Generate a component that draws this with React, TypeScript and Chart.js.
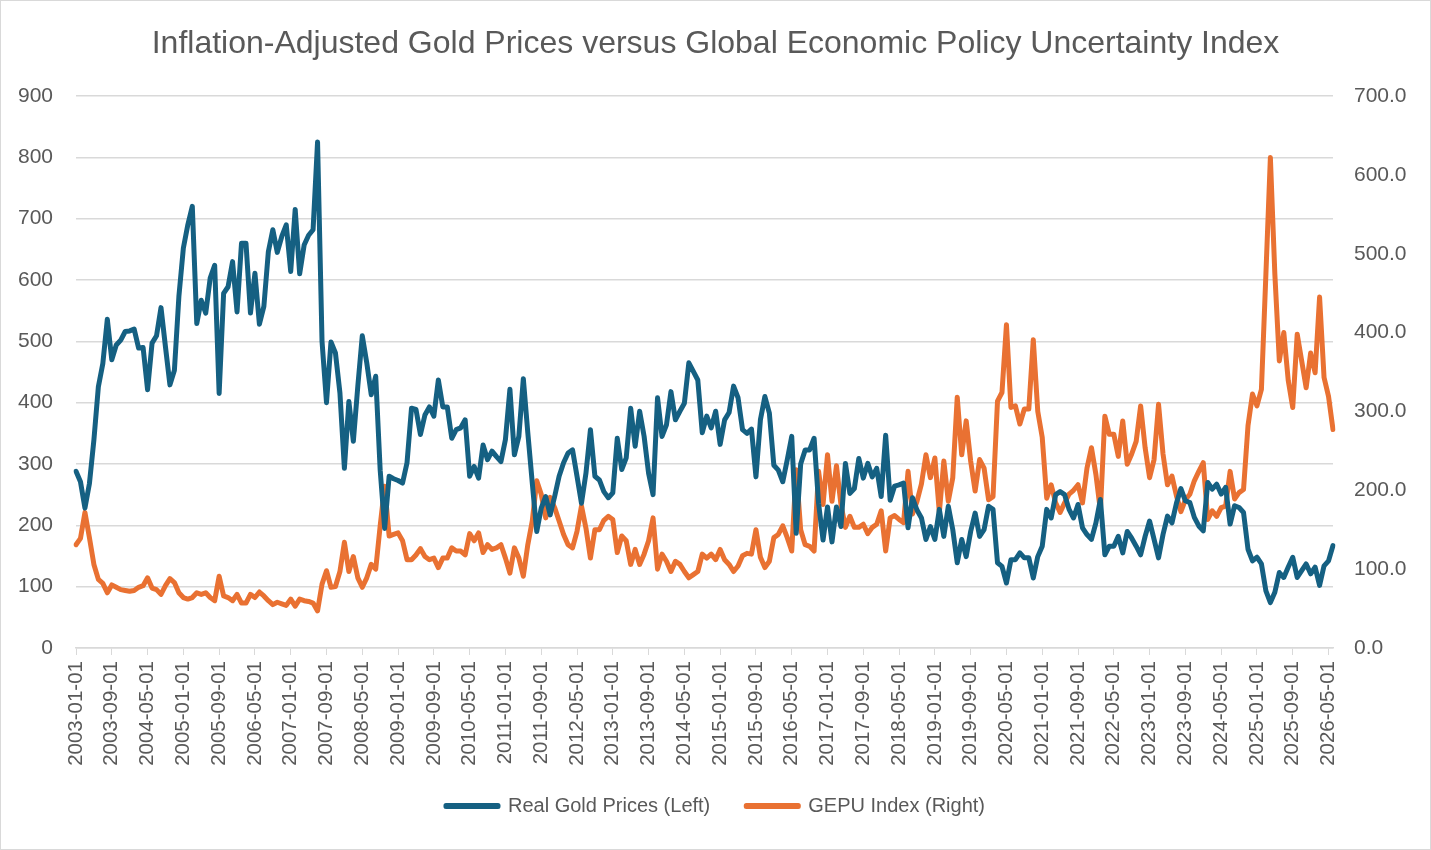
import React, { useEffect, useRef } from "react";
import { Chart, registerables } from "chart.js";

Chart.register(...registerables);

// Monthly categories: 2003-01-01 .. 2026-06-01
const START_YEAR = 2003;
const MONTH_COUNT = 282;
const categories: string[] = [];
for (let k = 0; k < MONTH_COUNT; k++) {
  const y = START_YEAR + Math.floor(k / 12);
  const m = (k % 12) + 1;
  categories.push(`${y}-${m < 10 ? "0" + m : m}-01`);
}
const LABEL_EVERY = 8;

const realGoldPrices: number[] = [
  288, 271, 228, 268, 339, 426, 464, 536, 470, 494, 502, 516,
  517, 520, 489, 490, 421, 497, 509, 555, 491, 429, 453, 573,
  652, 690, 720, 529, 567, 546, 603, 624, 415, 578, 589, 630,
  548, 660, 660, 546, 611, 528, 557, 646, 682, 645, 671, 690,
  614, 715, 610, 657, 673, 682, 825, 500, 400, 499, 481, 416,
  293, 402, 337, 427, 509, 465, 413, 443, 290, 195, 280, 276,
  273, 269, 302, 391, 389, 348, 380, 393, 378, 437, 393, 393,
  342, 356, 359, 372, 280, 296, 277, 331, 307, 321, 312, 304,
  340, 422, 315, 345, 439, 351, 269, 190, 228, 247, 217, 247,
  280, 302, 318, 323, 280, 236, 285, 356, 280, 274, 255, 245,
  253, 342, 291, 310, 391, 329, 386, 345, 285, 250, 408, 345,
  364, 418, 372, 386, 399, 465, 451, 437, 351, 378, 359, 386,
  332, 372, 384, 427, 408, 356, 350, 357, 279, 372, 410, 383,
  298, 290, 271, 307, 345, 187, 300, 323, 323, 342, 236, 176,
  230, 173, 230, 198, 301, 252, 260, 309, 277, 301, 279, 293,
  247, 347, 241, 264, 266, 269, 196, 245, 225, 212, 177, 198,
  177, 226, 182, 231, 193, 139, 177, 149, 190, 220, 182, 193,
  231, 226, 139, 133, 106, 144, 144, 155, 147, 147, 114, 149,
  166, 226, 212, 250, 255, 250, 226, 212, 234, 196, 185, 177,
  204, 242, 152, 166, 166, 182, 155, 190, 179, 166, 152, 182,
  207, 177, 147, 185, 215, 204, 236, 260, 240, 237, 213, 199,
  191, 270, 259, 267, 251, 262, 202, 232, 229, 221, 161, 142,
  148, 137, 93, 74, 91, 123, 115, 132, 148, 115, 126, 137,
  121, 132, 102, 134, 142, 167,
];

const gepuIndex: number[] = [
  131, 139, 172, 140, 106, 87, 82, 70, 80, 77, 74, 73,
  72, 73, 77, 79, 89, 76, 74, 68, 79, 88, 83, 70,
  64, 62, 64, 70, 68, 70, 64, 60, 91, 66, 64, 60,
  68, 57, 57, 68, 64, 71, 66, 60, 55, 58, 56, 54,
  62, 53, 62, 60, 59, 57, 47, 81, 98, 77, 78, 97,
  134, 97, 116, 89, 77, 89, 106, 100, 155, 205, 142, 144,
  146, 136, 112, 112, 118, 126, 116, 112, 114, 102, 114, 114,
  127, 123, 123, 118, 145, 136, 146, 121, 131, 125, 127, 131,
  114, 95, 127, 114, 91, 131, 161, 212, 195, 165, 191, 178,
  161, 144, 131, 127, 148, 180, 152, 114, 150, 150, 162, 167,
  163, 121, 142, 136, 106, 125, 106, 119, 136, 165, 100, 119,
  110, 97, 110, 106, 97, 89, 93, 97, 119, 114, 119, 112,
  125, 112, 106, 97, 104, 117, 120, 119, 150, 115, 102, 110,
  140, 144, 155, 140, 123, 226, 150, 131, 129, 123, 224, 182,
  245, 186, 231, 182, 153, 167, 153, 153, 157, 145, 153, 157,
  174, 123, 165, 168, 163, 159, 224, 170, 186, 208, 245, 216,
  241, 172, 237, 186, 216, 318, 245, 288, 237, 199, 239, 228,
  188, 192, 313, 324, 410, 305, 307, 284, 303, 303, 391, 300,
  267, 190, 207, 184, 172, 184, 195, 200, 207, 184, 228, 254,
  220, 174, 294, 271, 271, 243, 288, 233, 246, 262, 307, 254,
  216, 239, 309, 246, 207, 218, 193, 173, 188, 195, 212, 224,
  235, 163, 174, 167, 178, 180, 224, 189, 197, 201, 282, 322,
  307, 328, 474, 622, 474, 364, 400, 339, 305, 398, 364, 330,
  374, 349, 445, 343, 319, 277,
];

const leftTicks = { min: 0, max: 900, step: 100 };
const rightTicks = { min: 0, max: 700, step: 100 };

const TITLE = "Inflation-Adjusted Gold Prices versus Global Economic Policy Uncertainty Index";
const GOLD_LABEL = "Real Gold Prices (Left)";
const GEPU_LABEL = "GEPU Index (Right)";

const BLUE = "#156082";
const ORANGE = "#E97132";
const TEXT = "#595959";
const GRID = "#D9D9D9";
const FONT = "'Liberation Sans', Arial, sans-serif";

// Let the rotated x labels extend below the (compact) x-axis box without being clipped.
const expandXLabelArea = {
  id: "expandXLabelArea",
  afterLayout(chart: any) {
    const x = chart.scales.x;
    if (x) x.bottom = x.top + 140;
  },
};

export default function App() {
  const canvasRef = useRef<HTMLCanvasElement | null>(null);

  useEffect(() => {
    const canvas = canvasRef.current;
    if (!canvas) return;
    const chart = new Chart(canvas, {
      type: "line",
      data: {
        labels: categories,
        datasets: [
          {
            label: GOLD_LABEL,
            data: realGoldPrices,
            borderColor: BLUE,
            backgroundColor: BLUE,
            borderWidth: 5,
            pointRadius: 0,
            tension: 0,
            borderJoinStyle: "round",
            borderCapStyle: "round",
            yAxisID: "yLeft",
          },
          {
            label: GEPU_LABEL,
            data: gepuIndex,
            borderColor: ORANGE,
            backgroundColor: ORANGE,
            borderWidth: 5,
            pointRadius: 0,
            tension: 0,
            borderJoinStyle: "round",
            borderCapStyle: "round",
            yAxisID: "yRight",
          },
        ],
      },
      plugins: [expandXLabelArea],
      options: {
        animation: false,
        responsive: false,
        maintainAspectRatio: false,
        layout: { padding: { left: 0, right: 0, top: 0, bottom: 23 } },
        plugins: {
          title: {
            display: true,
            text: TITLE,
            color: TEXT,
            font: { family: FONT, size: 32, weight: "normal" },
            padding: { top: 24, bottom: 32.6 },
          },
          legend: {
            display: true,
            position: "bottom",
            labels: {
              color: TEXT,
              font: { family: FONT, size: 20 },
              boxWidth: 52,
              boxHeight: 1,
              padding: 36,
            },
          },
          tooltip: { enabled: false },
        },
        scales: {
          x: {
            type: "category",
            offset: false,
            grid: {
              drawOnChartArea: false,
              drawTicks: true,
              tickLength: 7,
              color: GRID,
            },
            border: { display: true, color: GRID, width: 1.5 },
            ticks: {
              autoSkip: false,
              minRotation: 90,
              maxRotation: 90,
              color: TEXT,
              font: { family: FONT, size: 20.5 },
              padding: 6,
              callback: (_v: any, index: number) =>
                index % LABEL_EVERY === 0 ? categories[index] : null,
            },
            afterFit: (s: any) => {
              s.height = 112;
            },
          },
          yLeft: {
            type: "linear",
            position: "left",
            min: leftTicks.min,
            max: leftTicks.max,
            grid: { color: GRID, lineWidth: 1.5, drawTicks: false },
            border: { display: false },
            ticks: {
              stepSize: leftTicks.step,
              color: TEXT,
              font: { family: FONT, size: 21 },
              padding: 23,
            },
            afterFit: (s: any) => {
              s.width = 75;
            },
          },
          yRight: {
            type: "linear",
            position: "right",
            min: rightTicks.min,
            max: rightTicks.max,
            grid: { drawOnChartArea: false, drawTicks: false },
            border: { display: false },
            ticks: {
              stepSize: rightTicks.step,
              color: TEXT,
              font: { family: FONT, size: 21 },
              padding: 21,
              callback: (v: any) => Number(v).toFixed(1),
            },
            afterFit: (s: any) => {
              s.width = 97;
            },
          },
        },
      },
    });
    return () => chart.destroy();
  }, []);

  return (
    <div
      style={{
        position: "fixed",
        left: 0,
        top: 0,
        width: 1431,
        height: 850,
        background: "#fff",
        boxSizing: "border-box",
        border: "1px solid #D9D9D9",
      }}
    >
      <canvas ref={canvasRef} width={1429} height={848} style={{ display: "block" }} />
    </div>
  );
}
